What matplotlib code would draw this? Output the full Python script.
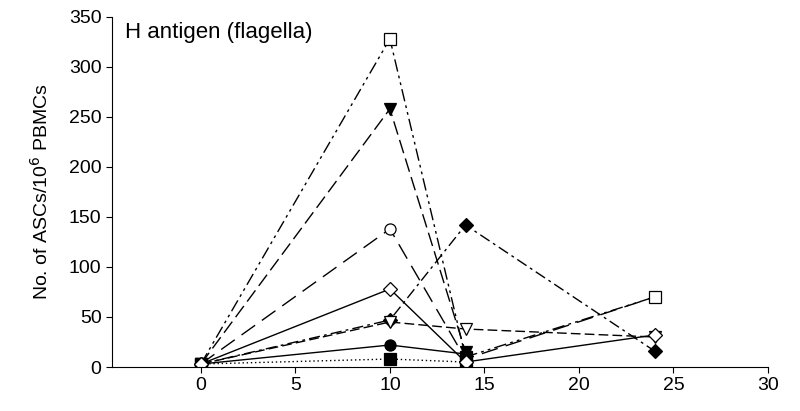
import numpy as np
import matplotlib
matplotlib.use('Agg')
import matplotlib.pyplot as plt

plt.rcParams.update({'font.family': ['Liberation Sans', 'DejaVu Sans'], 'font.size': 14})

days = [0, 10, 14, 24]
# ASCs per 10^6 PBMCs
filled_tri = [3, 258, 15, np.nan]
open_circle = [3, 138, 8, 70]
open_square = [3, 328, 10, 70]
filled_diamond = [3, 47, 142, 16]
open_tri = [3, 45, 38, 30]
filled_circle = [3, 22, 13, np.nan]
filled_square = [3, 8, 5, np.nan]
open_diamond = [3, 78, 5, 32]

series = [
    (filled_tri, 'v', 'black', (0, (10, 4))),
    (open_circle, 'o', 'none', (0, (12, 6))),
    (open_square, 's', 'none', (0, (9, 3, 2, 3, 2, 3))),
    (filled_diamond, 'D', 'black', (0, (8, 3, 2, 3))),
    (open_tri, 'v', 'none', (0, (7, 3))),
    (filled_circle, 'o', 'black', '-'),
    (filled_square, 's', 'black', (0, (1, 2))),
    (open_diamond, 'D', 'none', '-'),
]

fig = plt.figure(figsize=(8, 4.11), dpi=100)
ax = fig.add_axes([0.14, 0.107, 0.82, 0.852])
for vals, mk, fc, ls in series:
    ax.plot(days, vals, color='black', linestyle=ls, linewidth=1.0,
            marker=mk, markersize=8 if mk != 'D' else 7,
            markerfacecolor='white' if fc == 'none' else 'black',
            markeredgecolor='black', markeredgewidth=0.9)

ax.set_xlim(-4.7, 30)
ax.set_ylim(0, 350)
ax.set_xticks([0, 5, 10, 15, 20, 25, 30])
ax.set_yticks(range(0, 351, 50))
ax.spines['top'].set_visible(False)
ax.spines['right'].set_visible(False)
ax.tick_params(direction='out', length=4, width=0.8, labelsize=14)
ax.set_ylabel('No. of ASCs/10$^6$ PBMCs', fontsize=14, labelpad=12)
ax.text(0.02, 0.985, 'H antigen (flagella)', transform=ax.transAxes,
        fontsize=16, va='top', ha='left')

plt.savefig('out.png', dpi=100)
